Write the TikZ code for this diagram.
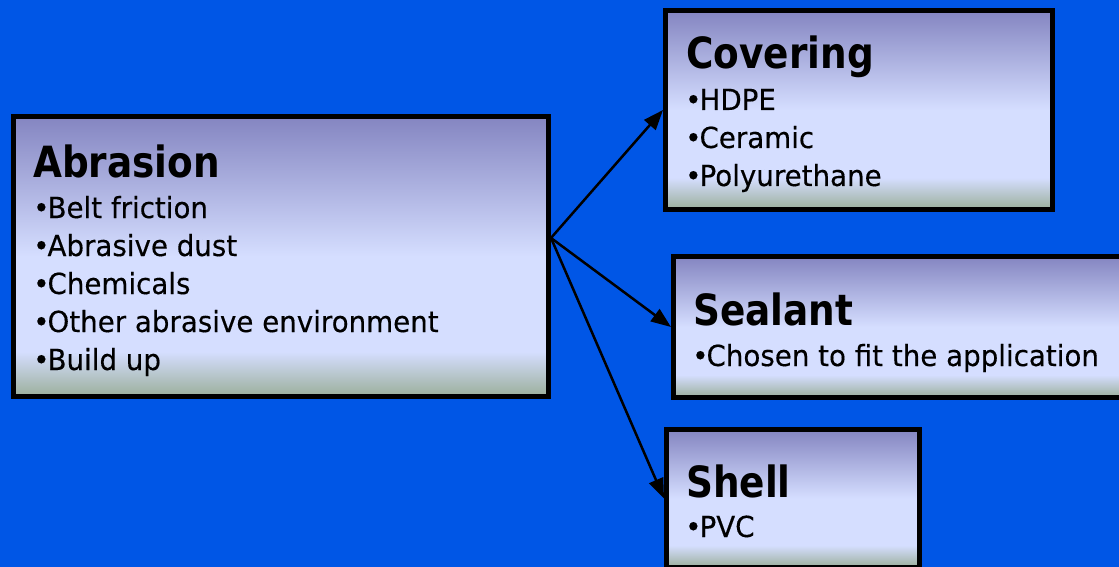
\documentclass[tikz,border=0pt]{standalone}
\usepackage{fontspec}
\setmainfont{DejaVu Sans}
\newfontfamily\bodyf[FakeStretch=0.955,FakeBold=0.3]{DejaVu Sans}
\newfontfamily\titlef[FakeStretch=0.87]{DejaVu Sans Bold}
\usetikzlibrary{arrows.meta,calc}
\definecolor{bgblue}{RGB}{0,86,230}
\definecolor{gtop}{RGB}{132,133,193}
\definecolor{glight}{RGB}{213,222,255}
\definecolor{gbot}{RGB}{155,175,155}
\pgfdeclareverticalshading{boxshade}{100bp}{color(0bp)=(gbot); color(25bp)=(gbot); color(33bp)=(glight); color(50bp)=(glight); color(75bp)=(gtop); color(100bp)=(gtop)}
\newcommand\itemlines[1]{\vtop{\bodyf\fontsize{29}{38}\selectfont #1}}
\newcommand\bul{\kern-1pt•\kern-2pt}
\begin{document}
\begin{tikzpicture}[x=1pt,y=-1pt,
  box/.style={rectangle, draw=black, line width=5pt, shade, shading=boxshade, inner sep=0pt},
  title/.style={anchor=base west, inner sep=0pt, font=\titlef\fontsize{43}{50}\selectfont},
  lines/.style={anchor=base west, inner sep=0pt},
  link/.style={draw=black, line width=2.5pt, -{Triangle[length=20pt,width=15pt]}}]
\fill[bgblue] (0,0) rectangle (1119,567);
\useasboundingbox (0,0) rectangle (1119,567);

\node[box, minimum width=535pt, minimum height=280pt] (abr) at (281,256.5) {};
\node[box, minimum width=387pt, minimum height=199pt] (cov) at (859,110) {};
\node[box, minimum width=464pt, minimum height=141pt] (seal) at (905.5,327) {};
\node[box, minimum width=253pt, minimum height=138pt] (shell) at (793,498.5) {};

\node[title] (abrT) at (33,178) {Abrasion};
\node[lines] (abrL) at (34,218) {\itemlines{\hbox{\bul Belt friction}\hbox{\bul Abrasive dust}\hbox{\bul Chemicals}\hbox{\bul Other abrasive environment}\hbox{\bul Build up}}};

\node[title] (covT) at (686,69) {Covering};
\node[lines] (covL) at (686,110) {\itemlines{\hbox{\bul HDPE}\hbox{\bul Ceramic}\hbox{\bul Polyurethane}}};

\node[title] (sealT) at (693,325) {Sealant};
\node[lines] (sealL) at (693,366) {\itemlines{\hbox{\bul Chosen to fit the application}}};

\node[title] (shellT) at (686,497) {Shell};
\node[lines] (shellL) at (686,537) {\itemlines{\hbox{\bul PVC}}};

\coordinate (src) at ($(abr.north east)!0.435!(abr.south east)$);
\draw[link] (src) -- (cov.west);
\draw[link] (src) -- (seal.west);
\draw[link] (src) -- (shell.west);
\end{tikzpicture}
\end{document}
